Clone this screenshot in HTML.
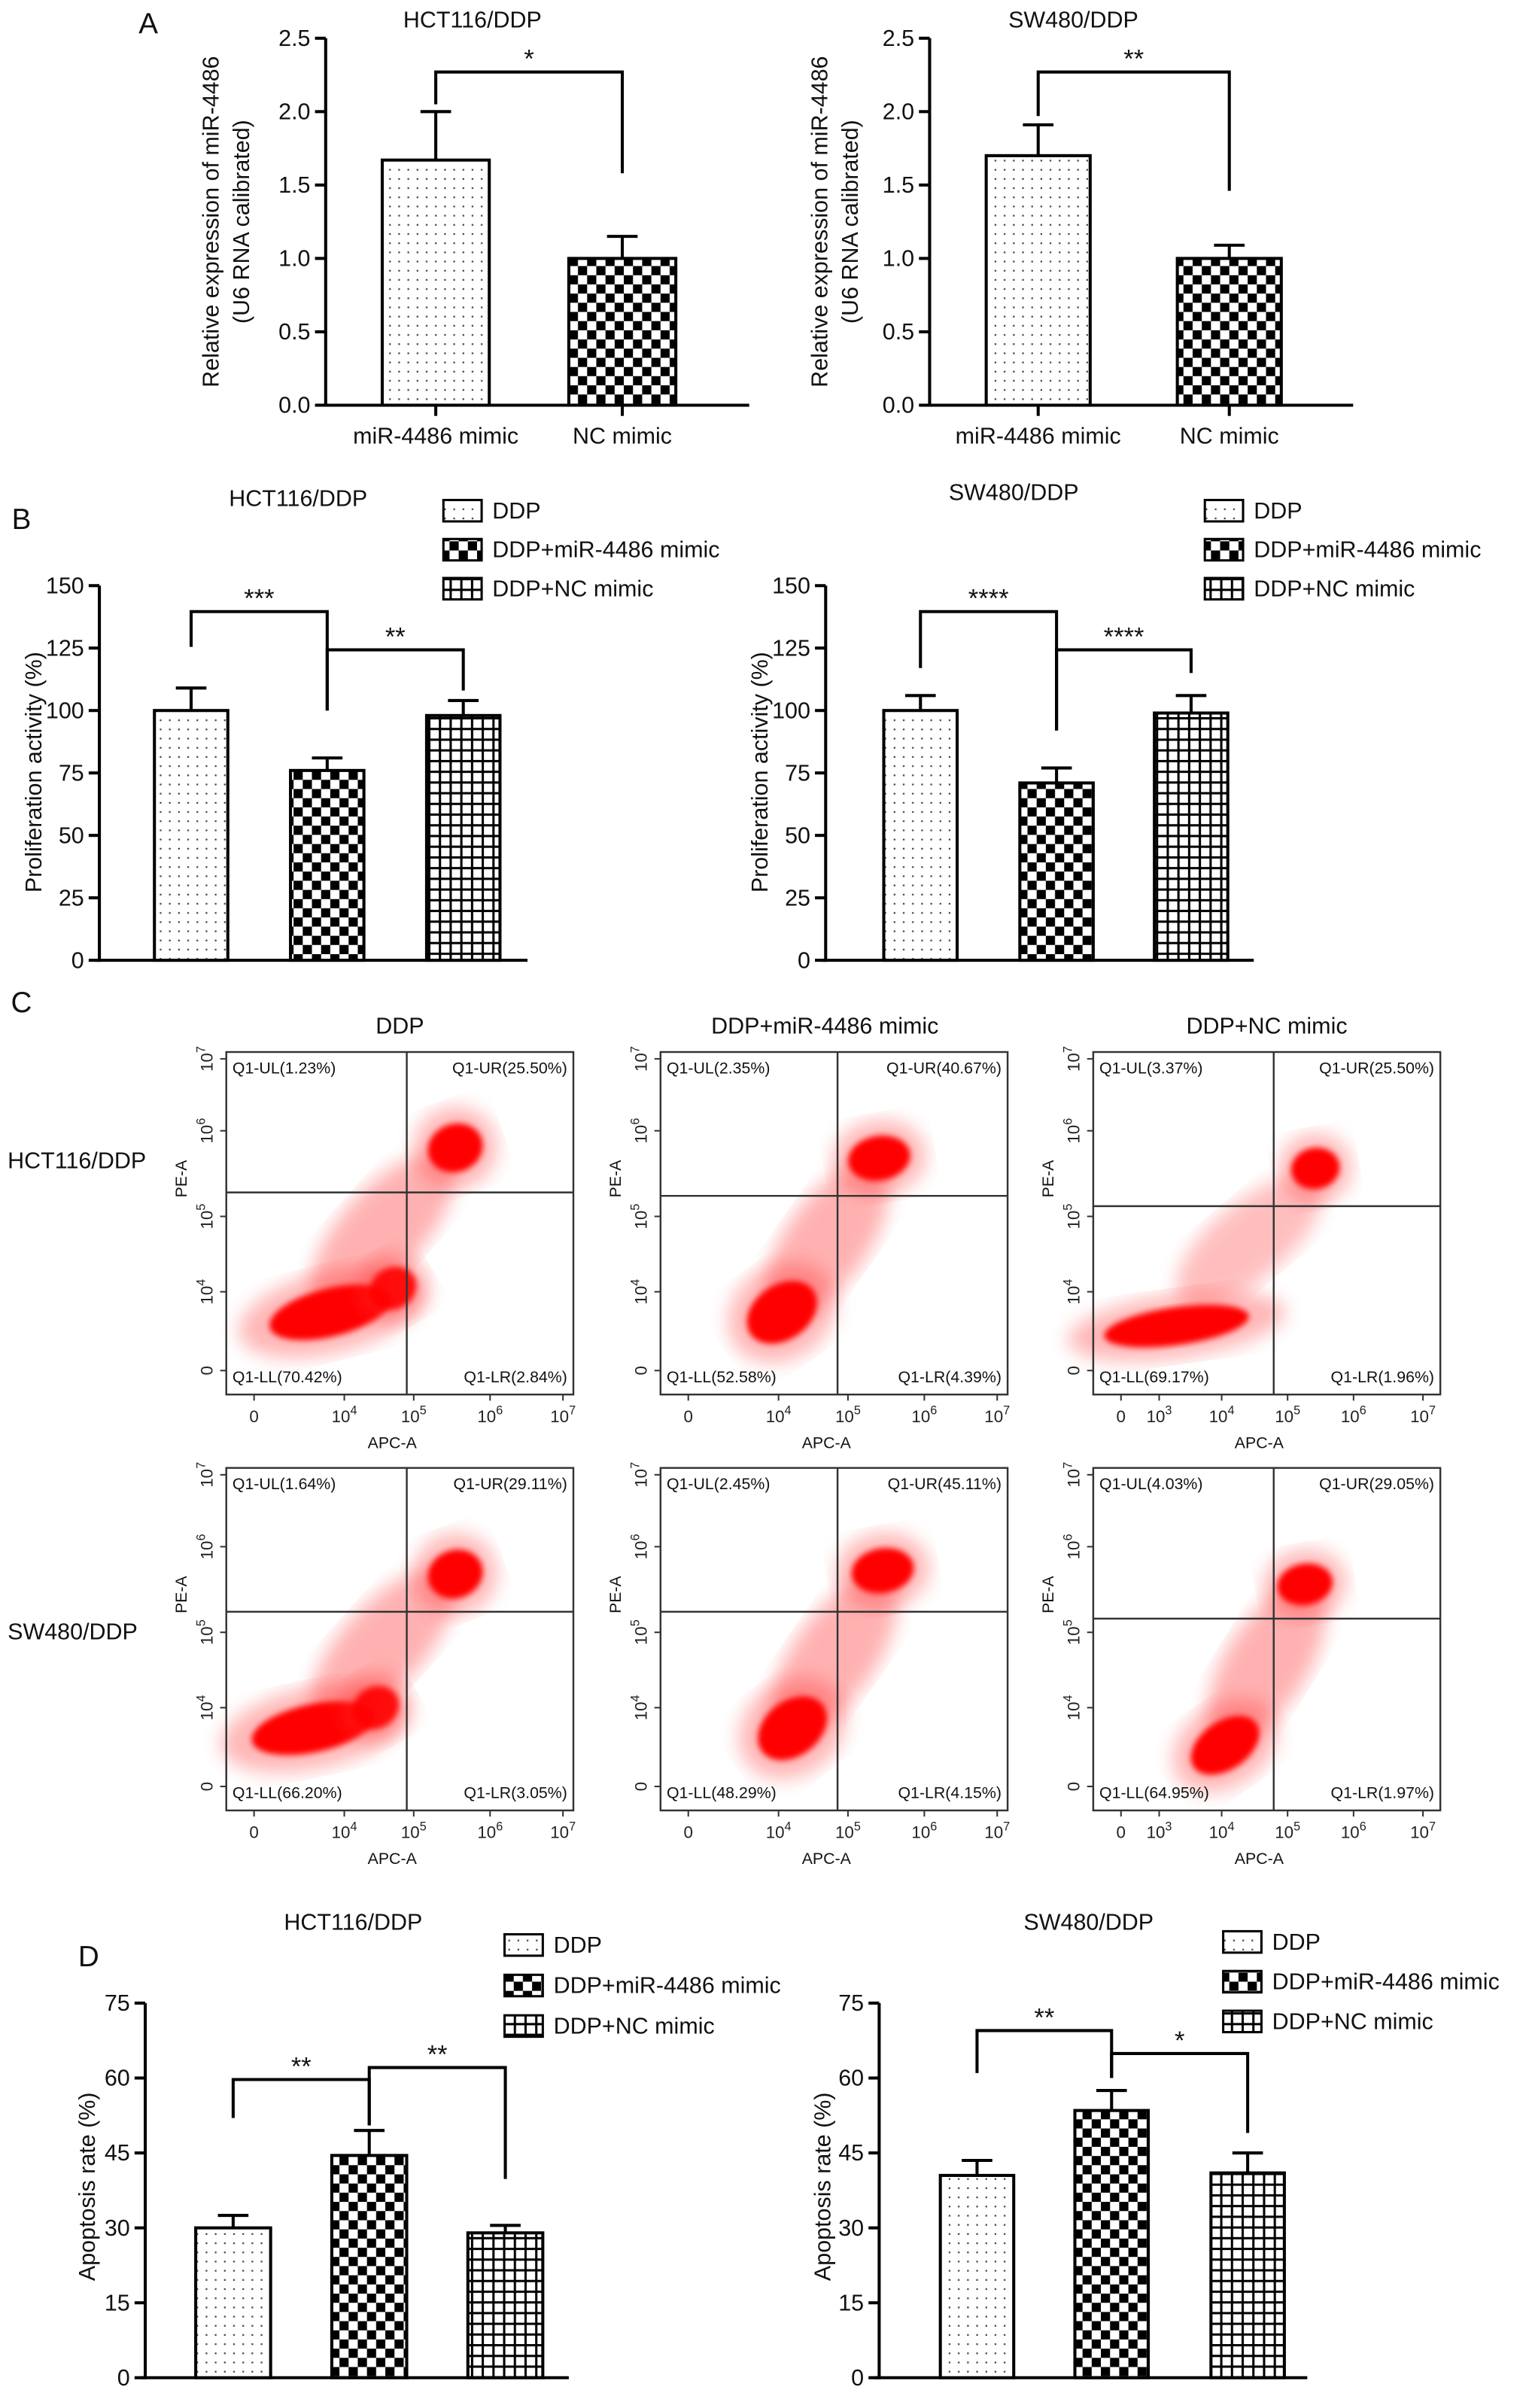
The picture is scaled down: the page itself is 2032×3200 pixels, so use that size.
<!DOCTYPE html>
<html><head><meta charset="utf-8"><style>
html,body{margin:0;padding:0;background:#fff;}
svg{display:block;font-family:"Liberation Sans",Arial,sans-serif;}
</style></head><body>
<svg id="fig" xmlns="http://www.w3.org/2000/svg" width="2032" height="3200" viewBox="0 0 1000 1574.8">
<defs>
<pattern id="pDots" width="6" height="6" patternUnits="userSpaceOnUse"><rect width="6" height="6" fill="#fff"/><rect x="2.5" y="2.5" width="1.1" height="1.1" fill="#444"/></pattern>
<pattern id="pCheck" width="12" height="12" patternUnits="userSpaceOnUse"><rect width="12" height="12" fill="#fff"/><rect width="6" height="6" fill="#000"/><rect x="6" y="6" width="6" height="6" fill="#000"/></pattern>
<pattern id="pGrid" width="7" height="7" patternUnits="userSpaceOnUse"><rect width="7" height="7" fill="#fff"/><rect x="0" y="0" width="7" height="1.5" fill="#000"/><rect x="0" y="0" width="1.5" height="7" fill="#000"/></pattern>
<filter id="blurS"><feGaussianBlur stdDeviation="2"/></filter>
<filter id="blurL"><feGaussianBlur stdDeviation="6"/></filter>
</defs>
</svg>
<script>
// ---- data ----
const aCats = ['miR-4486 mimic', 'NC mimic'];
const aHctVals = [1.67, 1.0];
const aHctErr = [2.0, 1.15];
const aSwVals = [1.7, 1.0];
const aSwErr = [1.91, 1.09];
const aTicks = [0, 0.5, 1.0, 1.5, 2.0, 2.5];
const aTickLabels = ['0.0', '0.5', '1.0', '1.5', '2.0', '2.5'];
const bCats = ['DDP', 'DDP+miR-4486 mimic', 'DDP+NC mimic'];
const bHctVals = [100, 76, 98];
const bHctErr = [109, 81, 104];
const bSwVals = [100, 71, 99];
const bSwErr = [106, 77, 106];
const bTicks = [0, 25, 50, 75, 100, 125, 150];
const dHctVals = [30, 44.5, 29];
const dHctErr = [32.5, 49.5, 30.5];
const dSwVals = [40.5, 53.5, 41];
const dSwErr = [43.5, 57.5, 45];
const dTicks = [0, 15, 30, 45, 60, 75];
const flowQuadLL = [['70.42','52.58','69.17'],['66.20','48.29','64.95']];
const flowQuadLR = [['2.84','4.39','1.96'],['3.05','4.15','1.97']];
const flowQuadUL = [['1.23','2.35','3.37'],['1.64','2.45','4.03']];
const flowQuadUR = [['25.50','40.67','25.50'],['29.11','45.11','29.05']];

const NS = 'http://www.w3.org/2000/svg';
const svg = document.getElementById('fig');
function el(tag, attrs, parent, text) {
  const e = document.createElementNS(NS, tag);
  for (const k in attrs) e.setAttribute(k, attrs[k]);
  if (text !== undefined) e.textContent = text;
  (parent || svg).appendChild(e);
  return e;
}
function txt(x, y, s, size, anchor, parent, name, rot) {
  const t = el('text', {x: x, y: y, 'font-size': size, 'text-anchor': anchor || 'middle', fill: '#111'}, parent, s);
  if (rot) t.setAttribute('transform', 'rotate(-90 ' + x + ' ' + y + ')');
  
  
  return t;
}
const fills = ['url(#pDots)', 'url(#pCheck)', 'url(#pGrid)'];

function barChart(cfg) {
  const g = el('g', {});
  
  
  const y = v => cfg.y0 - (v - cfg.ticks[0]) / (cfg.ticks[cfg.ticks.length - 1] - cfg.ticks[0]) * (cfg.y0 - cfg.y1);
  const xc = i => cfg.barX[i] + cfg.barW / 2;
  const ya = el('line', {x1: cfg.ax, y1: cfg.y1, x2: cfg.ax, y2: cfg.y0 + 1, stroke: '#000', 'stroke-width': 2}, g);
  
  
  const xa = el('line', {x1: cfg.ax - 3, y1: cfg.y0, x2: cfg.axEnd, y2: cfg.y0, stroke: '#000', 'stroke-width': 2}, g);
  
  
  cfg.ticks.forEach((t, i) => {
    el('line', {x1: cfg.ax - 7, y1: y(t), x2: cfg.ax, y2: y(t), stroke: '#000', 'stroke-width': 2}, g);
    txt(cfg.ax - 10, y(t) + 5, cfg.tickLabels ? cfg.tickLabels[i] : String(t), 15, 'end', g, 'y-tick-label');
  });
  cfg.vals.forEach((v, i) => {
    const eb = el('path', {d: 'M' + xc(i) + ' ' + y(v) + 'V' + y(cfg.err[i]) + 'M' + (xc(i) - 10) + ' ' + y(cfg.err[i]) + 'H' + (xc(i) + 10), stroke: '#000', 'stroke-width': 2, fill: 'none'}, g);
    
    
    const r = el('rect', {x: cfg.barX[i], y: y(v), width: cfg.barW, height: cfg.y0 - y(v), fill: fills[cfg.fillIdx[i]], stroke: '#000', 'stroke-width': 2}, g);
    
    
    if (cfg.cats) {
      el('line', {x1: xc(i), y1: cfg.y0, x2: xc(i), y2: cfg.y0 + 7, stroke: '#000', 'stroke-width': 2}, g);
      txt(xc(i), cfg.y0 + 25, cfg.cats[i], 15, 'middle', g, 'x-tick-label');
    }
  });
  cfg.brackets.forEach(b => {
    const p = el('path', {d: 'M' + xc(b[0]) + ' ' + y(b[3]) + 'V' + y(b[2]) + 'H' + xc(b[1]) + 'V' + y(b[4]), stroke: '#000', 'stroke-width': 2, fill: 'none'}, g);
    
    
    txt((xc(b[0]) + xc(b[1])) / 2, y(b[2]) - 3, b[5], 17, 'middle', g, 'significance-stars');
  });
  txt(cfg.titleX, cfg.titleY, cfg.title, 15, 'middle', g, 'chart-title');
  cfg.ylabel.forEach((l, i) => txt(cfg.ylx + i * 20, cfg.yly, l, 15, 'middle', g, 'y-axis-title', true));
  if (cfg.legendX !== undefined) {
    bCats.forEach((c, i) => {
      const ly = cfg.legendY + i * cfg.legendGap;
      const lr = el('rect', {x: cfg.legendX, y: ly - 11, width: 25, height: 14, fill: fills[i], stroke: '#000', 'stroke-width': 1.5}, g);
      
      
      txt(cfg.legendX + 32, ly + 1, c, 15, 'start', g, 'legend-entry');
    });
  }
}

// Panel A
txt(97, 22, 'A', 19, 'middle', svg, 'panel-label-a');
barChart({name: 'chart-a-hct116', ticks: aTicks, tickLabels: aTickLabels, y0: 265, y1: 25, ax: 213, axEnd: 490,
  barX: [250, 372], barW: 70, vals: aHctVals, err: aHctErr, fillIdx: [0, 1], cats: aCats,
  brackets: [[0, 1, 2.27, 2.05, 1.58, '*']], title: 'HCT116/DDP', titleX: 309, titleY: 18,
  ylabel: ['Relative expression of miR-4486', '(U6 RNA calibrated)'], ylx: 143, yly: 145});
barChart({name: 'chart-a-sw480', ticks: aTicks, tickLabels: aTickLabels, y0: 265, y1: 25, ax: 608, axEnd: 885,
  barX: [645, 770], barW: 68, vals: aSwVals, err: aSwErr, fillIdx: [0, 1], cats: aCats,
  brackets: [[0, 1, 2.27, 1.97, 1.46, '**']], title: 'SW480/DDP', titleX: 702, titleY: 18,
  ylabel: ['Relative expression of miR-4486', '(U6 RNA calibrated)'], ylx: 541, yly: 145});

// Panel B
txt(14, 346, 'B', 19, 'middle', svg, 'panel-label-b');
barChart({name: 'chart-b-hct116', ticks: bTicks, y0: 628, y1: 383, ax: 65, axEnd: 345,
  barX: [101, 190, 279], barW: 48, vals: bHctVals, err: bHctErr, fillIdx: [0, 1, 2],
  brackets: [[0, 1, 139.6, 125.5, 100, '***'], [1, 2, 124.3, 100, 108, '**']],
  title: 'HCT116/DDP', titleX: 195, titleY: 331, ylabel: ['Proliferation activity (%)'], ylx: 27, yly: 505,
  legendX: 290, legendY: 338, legendGap: 25.5});
barChart({name: 'chart-b-sw480', ticks: bTicks, y0: 628, y1: 383, ax: 540, axEnd: 820,
  barX: [578, 667, 755], barW: 48, vals: bSwVals, err: bSwErr, fillIdx: [0, 1, 2],
  brackets: [[0, 1, 139.6, 117, 92, '****'], [1, 2, 124.3, 92, 115, '****']],
  title: 'SW480/DDP', titleX: 663, titleY: 327, ylabel: ['Proliferation activity (%)'], ylx: 502, yly: 505,
  legendX: 788, legendY: 338, legendGap: 25.5});

// Panel D
txt(58, 1286, 'D', 19, 'middle', svg, 'panel-label-d');
barChart({name: 'chart-d-hct116', ticks: dTicks, y0: 1555, y1: 1310, ax: 95, axEnd: 372,
  barX: [128, 217, 306], barW: 49, vals: dHctVals, err: dHctErr, fillIdx: [0, 1, 2],
  brackets: [[0, 1, 59.7, 52, 50.5, '**'], [1, 2, 62.1, 50.5, 39.8, '**']],
  title: 'HCT116/DDP', titleX: 231, titleY: 1262, ylabel: ['Apoptosis rate (%)'], ylx: 62, yly: 1430,
  legendX: 330, legendY: 1276, legendGap: 26.5});
barChart({name: 'chart-d-sw480', ticks: dTicks, y0: 1555, y1: 1310, ax: 575, axEnd: 855,
  barX: [615, 703, 792], barW: 48, vals: dSwVals, err: dSwErr, fillIdx: [0, 1, 2],
  brackets: [[0, 1, 69.5, 61, 60, '**'], [1, 2, 64.9, 60, 49, '*']],
  title: 'SW480/DDP', titleX: 712, titleY: 1262, ylabel: ['Apoptosis rate (%)'], ylx: 543, yly: 1430,
  legendX: 800, legendY: 1274, legendGap: 26});

// Panel C flow plots
txt(14, 662, 'C', 19, 'middle', svg, 'panel-label-c');
const colTitles = ['DDP', 'DDP+miR-4486 mimic', 'DDP+NC mimic'];
const colX = [148, 432, 715];
const rowY = [688, 960];
const boxW = 227, boxH = 224;
const vLineF = [[0.52, 0.51, 0.52], [0.52, 0.51, 0.52]];
const hLineF = [[0.41, 0.42, 0.45], [0.42, 0.42, 0.44]];
// clusters [fx, fy, rx, ry, rot, opacity, blurType]
const clusters = [
 [[[0.45,0.52,0.28,0.12,-48,0.3,'L'],[0.30,0.76,0.18,0.07,-14,1,'S'],[0.48,0.69,0.07,0.06,-30,0.9,'S'],[0.66,0.28,0.08,0.07,-20,1,'S']],
  [[0.48,0.55,0.26,0.12,-55,0.3,'L'],[0.35,0.76,0.11,0.08,-35,1,'S'],[0.63,0.31,0.09,0.065,-10,1,'S']],
  [[0.45,0.55,0.26,0.11,-40,0.25,'L'],[0.24,0.80,0.21,0.055,-8,1,'S'],[0.64,0.34,0.07,0.06,-10,1,'S']]],
 [[[0.45,0.52,0.28,0.12,-48,0.3,'L'],[0.25,0.76,0.18,0.07,-12,1,'S'],[0.43,0.70,0.07,0.06,-30,0.9,'S'],[0.66,0.31,0.08,0.07,-20,1,'S']],
  [[0.50,0.55,0.27,0.12,-55,0.3,'L'],[0.38,0.76,0.11,0.08,-38,1,'S'],[0.64,0.30,0.09,0.065,-10,1,'S']],
  [[0.50,0.57,0.26,0.12,-58,0.3,'L'],[0.38,0.81,0.11,0.07,-35,1,'S'],[0.61,0.34,0.08,0.06,-10,1,'S']]]
];
const xTickF = [[0.08, 0.34, 0.54, 0.76, 0.97], [0.08, 0.34, 0.54, 0.76, 0.97], [0.08, 0.19, 0.37, 0.56, 0.75, 0.95]];
const xTickLab = [['0','4','5','6','7'], ['0','4','5','6','7'], ['0','3','4','5','6','7']];
const yTickF = [0.93, 0.70, 0.48, 0.23, 0.02];
const yTickLab = ['0', '4', '5', '6', '7'];
colTitles.forEach((t, c) => txt(colX[c] + boxW / 2 + (c === 1 ? -6 : 0), 676, t, 15, 'middle', svg, 'flow-column-title'));
txt(5, 764, 'HCT116/DDP', 15, 'start', svg, 'row-label');
txt(5, 1072, 'SW480/DDP', 15, 'start', svg, 'row-label');
function pow10(x, y, e, parent, rot) {
  const t = el('text', {x: x, y: y, 'font-size': 11, 'text-anchor': 'middle', fill: '#222'}, parent);
  if (e === '0') { t.textContent = '0'; }
  else {
    el('tspan', {}, t, '10');
    el('tspan', {dy: -5, 'font-size': 8}, t, e);
  }
  if (rot) t.setAttribute('transform', 'rotate(-90 ' + x + ' ' + y + ')');
  
  
}
for (let r = 0; r < 2; r++) for (let c = 0; c < 3; c++) {
  const x0 = colX[c], y0 = rowY[r];
  const g = el('g', {});
  
  
  clusters[r][c].forEach(k => {
    const cx = x0 + k[0] * boxW, cy = y0 + k[1] * boxH;
    if (k[6] === 'S') {
      const h = el('ellipse', {cx: cx, cy: cy, rx: k[2] * boxW * 1.5, ry: k[3] * boxH * 1.7, fill: '#f33', opacity: 0.35, filter: 'url(#blurL)', transform: 'rotate(' + k[4] + ' ' + cx + ' ' + cy + ')'}, g);
      
      
    }
    const e = el('ellipse', {cx: cx, cy: cy, rx: k[2] * boxW, ry: k[3] * boxH, fill: '#f00', opacity: k[5], filter: k[6] === 'L' ? 'url(#blurL)' : 'url(#blurS)', transform: 'rotate(' + k[4] + ' ' + cx + ' ' + cy + ')'}, g);
    
    
  });
  const box = el('rect', {x: x0, y: y0, width: boxW, height: boxH, fill: 'none', stroke: '#333', 'stroke-width': 1.2}, g);
  
  
  const vx = x0 + vLineF[r][c] * boxW, hy = y0 + hLineF[r][c] * boxH;
  el('line', {x1: vx, y1: y0, x2: vx, y2: y0 + boxH, stroke: '#333', 'stroke-width': 1.2}, g);
  el('line', {x1: x0, y1: hy, x2: x0 + boxW, y2: hy, stroke: '#333', 'stroke-width': 1.2}, g);
  txt(x0 + 4, y0 + 14, 'Q1-UL(' + flowQuadUL[r][c] + '%)', 10.5, 'start', g, 'quadrant-label');
  txt(x0 + boxW - 4, y0 + 14, 'Q1-UR(' + flowQuadUR[r][c] + '%)', 10.5, 'end', g, 'quadrant-label');
  txt(x0 + 4, y0 + boxH - 8, 'Q1-LL(' + flowQuadLL[r][c] + '%)', 10.5, 'start', g, 'quadrant-label');
  txt(x0 + boxW - 4, y0 + boxH - 8, 'Q1-LR(' + flowQuadLR[r][c] + '%)', 10.5, 'end', g, 'quadrant-label');
  xTickF[c].forEach((f, i) => {
    el('line', {x1: x0 + f * boxW, y1: y0 + boxH, x2: x0 + f * boxW, y2: y0 + boxH + 4, stroke: '#333', 'stroke-width': 1}, g);
    pow10(x0 + f * boxW, y0 + boxH + 18, xTickLab[c][i], g);
  });
  yTickF.forEach((f, i) => {
    el('line', {x1: x0 - 4, y1: y0 + f * boxH, x2: x0, y2: y0 + f * boxH, stroke: '#333', 'stroke-width': 1}, g);
    pow10(x0 - 9, y0 + f * boxH, yTickLab[i], g, true);
  });
  txt(x0 + boxW / 2 - 5, y0 + boxH + 35, 'APC-A', 10.5, 'middle', g, 'x-axis-title');
  txt(x0 - 26, y0 + boxH * 0.37, 'PE-A', 10.5, 'middle', g, 'y-axis-title', true);
}
</script>
</body></html>
